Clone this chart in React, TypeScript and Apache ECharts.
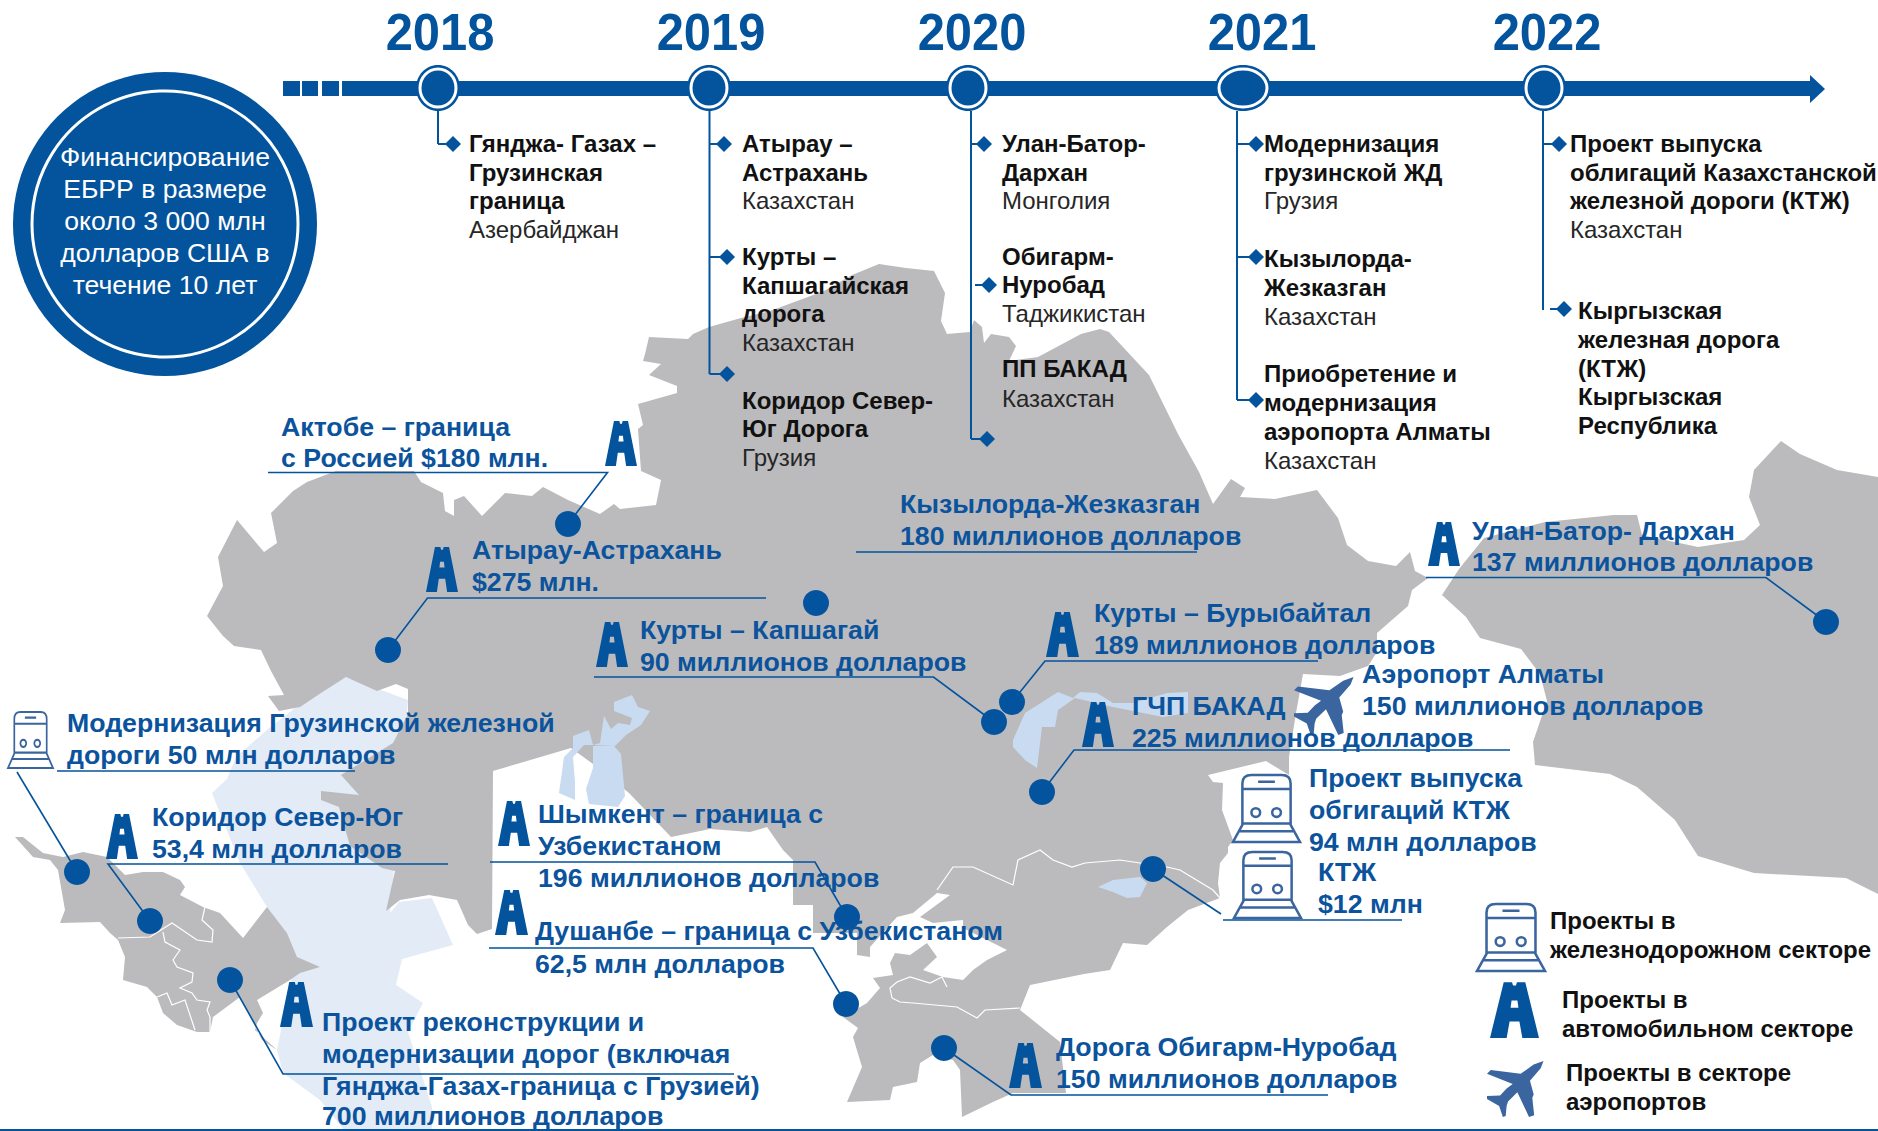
import React, { useEffect, useRef } from "react";
import * as echarts from "echarts";

const W = 1878, H = 1131;
const BLUE = "#03539D", TXT = "#0B539C", GRAY = "#BBBBBD", PALE = "#E3EBF6", LAKE = "#C9DBF0", ICON = "#3A659F";

const years = ["2018", "2019", "2020", "2021", "2022"];
const yearLabelX = [440, 711, 972, 1262, 1547];
const milestoneX = [438, 709, 968, 1243, 1544];
const milestoneRx = [22, 22, 22, 28, 22];

const fundingLines = ["Финансирование", "ЕБРР в размере", "около 3 000 млн", "долларов США в", "течение 10 лет"];

// timeline project notes: [x, y, text, bold]
const notes: [number, number, string, boolean][] = [
  [469, 143, "Гянджа- Газах –", true], [469, 172, "Грузинская", true], [469, 200, "граница", true], [469, 229, "Азербайджан", false],
  [742, 143, "Атырау –", true], [742, 172, "Астрахань", true], [742, 200, "Казахстан", false],
  [742, 256, "Курты –", true], [742, 285, "Капшагайская", true], [742, 313, "дорога", true], [742, 342, "Казахстан", false],
  [742, 400, "Коридор Север-", true], [742, 428, "Юг Дорога", true], [742, 457, "Грузия", false],
  [1002, 143, "Улан-Батор-", true], [1002, 172, "Дархан", true], [1002, 200, "Монголия", false],
  [1002, 256, "Обигарм-", true], [1002, 284, "Нуробад", true], [1002, 313, "Таджикистан", false],
  [1002, 368, "ПП БАКАД", true], [1002, 398, "Казахстан", false],
  [1264, 143, "Модернизация", true], [1264, 172, "грузинской ЖД", true], [1264, 200, "Грузия", false],
  [1264, 258, "Кызылорда-", true], [1264, 287, "Жезказган", true], [1264, 316, "Казахстан", false],
  [1264, 373, "Приобретение и", true], [1264, 402, "модернизация", true], [1264, 431, "аэропорта Алматы", true], [1264, 460, "Казахстан", false],
  [1570, 143, "Проект выпуска", true], [1570, 172, "облигаций Казахстанской", true], [1570, 200, "железной дороги (КТЖ)", true], [1570, 229, "Казахстан", false],
  [1578, 310, "Кыргызская", true], [1578, 339, "железная дорога", true], [1578, 368, "(КТЖ)", true], [1578, 396, "Кыргызская", true], [1578, 425, "Республика", true],
];

// connector per year: [x, top, bottom]
const stems = [[438, 111, 144], [709.5, 111, 374], [971, 111, 439], [1237, 111, 400], [1543, 111, 310]];
// branch: [x1, x2 (diamond centre), y]
const branches = [
  [438, 453, 144], [709.5, 724, 144], [709.5, 727, 257], [709.5, 727, 374],
  [971, 984, 144], [975, 989, 285], [971, 987, 439],
  [1237, 1256, 144], [1237, 1256, 257], [1237, 1256, 400],
  [1543, 1559, 144], [1550, 1564, 309],
];

// blue map labels: x, [lines with y]
const labels: [number, [number, string][]][] = [
  [281, [[427, "Актобе – граница"], [458, "с Россией $180 млн."]]],
  [472, [[550, "Атырау-Астрахань"], [582, "$275 млн."]]],
  [900, [[504, "Кызылорда-Жезказган"], [536, "180 миллионов долларов"]]],
  [640, [[630, "Курты – Капшагай"], [662, "90 миллионов долларов"]]],
  [1094, [[613, "Курты – Бурыбайтал"], [645, "189 миллионов долларов"]]],
  [1132, [[706, "ГЧП БАКАД"], [738, "225 миллионов долларов"]]],
  [1362, [[674, "Аэропорт Алматы"], [706, "150 миллионов долларов"]]],
  [1309, [[778, "Проект выпуска"], [810, "обгигаций КТЖ"], [842, "94 млн долларов"]]],
  [1318, [[872, "КТЖ"], [904, "$12 млн"]]],
  [1472, [[531, "Улан-Батор- Дархан"], [562, "137 миллионов долларов"]]],
  [67, [[723, "Модернизация Грузинской железной"], [755, "дороги 50 млн долларов"]]],
  [152, [[817, "Коридор Север-Юг"], [849, "53,4 млн долларов"]]],
  [538, [[814, "Шымкент – граница с"], [846, "Узбекистаном"], [878, "196 миллионов долларов"]]],
  [535, [[931, "Душанбе – граница с Узбекистаном"], [964, "62,5 млн долларов"]]],
  [322, [[1022, "Проект реконструкции и"], [1054, "модернизации дорог (включая"], [1086, "Гянджа-Газах-граница с Грузией)"], [1116, "700 миллионов долларов"]]],
  [1056, [[1047, "Дорога Обигарм-Нуробад"], [1079, "150 миллионов долларов"]]],
];

// leader lines as polylines
const leaders: number[][][] = [
  [[268, 472.5], [607.5, 472.5], [568, 524]],
  [[766, 598], [427.5, 598], [388, 650]],
  [[856, 552], [1197, 552]],
  [[594, 677], [933.5, 677], [994, 722]],
  [[1318, 661], [1045, 661], [1012, 702]],
  [[1510, 750], [1074, 750], [1042, 792]],
  [[1402, 920], [1223, 920]],
  [[1221, 914], [1153, 869]],
  [[1426, 577.5], [1766, 577.5], [1826, 622]],
  [[355, 771], [57, 771]],
  [[17, 772], [77, 872]],
  [[448, 864], [108, 864], [150, 921]],
  [[490, 862], [815, 862], [847, 917]],
  [[489, 948], [813, 948], [846, 1004]],
  [[734, 1074], [283, 1074], [230, 980]],
  [[1328, 1095], [1011, 1095], [944, 1048]],
];

const dots = [
  [568, 524], [388, 650], [816, 603], [994, 722], [1012, 702], [1042, 792], [1153, 869], [1826, 622],
  [77, 872], [150, 921], [230, 980], [847, 917], [846, 1004], [944, 1048],
];

// road icons [x, y, w, h]
const roads = [
  [605, 420, 32, 46], [426, 546, 32, 46], [596, 621, 32, 46], [1046, 611, 33, 46], [1082, 701, 32, 46], [1428, 521, 32, 45],
  [106, 813, 32, 46], [498, 800, 32, 46], [495, 889, 33, 46], [280, 981, 33, 46], [1009, 1042, 33, 46], [1490, 981, 49, 57],
];
const trains = [[8, 712, 45, 56], [1233, 775, 67, 67], [1234, 852, 67, 66], [1477, 904, 68, 67]];
const planes = [[1294, 676, 60, 59], [1487, 1060, 57, 57]];

const legendLines: [number, number, string][] = [
  [1550, 920, "Проекты в"], [1550, 949, "железнодорожном секторе"],
  [1562, 999, "Проекты в"], [1562, 1028, "автомобильном секторе"],
  [1566, 1072, "Проекты в секторе"], [1566, 1101, "аэропортов"],
];

const land: number[][] = [
  [645,354],[649,337],[688,339],[693,334],[709,327],[741,318],[770,311],[824,291],[852,275],[879,264],[906,268],[934,271],[945,293],[941,321],[947,334],[970,332],[974,320],[982,327],[984,343],[991,334],[1009,337],[1016,346],[1009,361],[1038,357],[1081,334],[1100,329],[1109,332],[1149,375],[1178,434],[1199,472],[1213,504],[1231,479],[1245,488],[1240,497],[1275,499],[1317,490],[1338,518],[1347,545],[1368,561],[1396,566],[1410,552],[1415,571],[1428,578],[1412,590],[1408,606],[1377,633],[1377,652],[1368,666],[1340,676],[1303,674],[1296,713],[1289,757],[1289,775],[1266,761],[1208,775],[1213,782],[1223,783],[1222,810],[1233,840],[1228,847],[1228,853],[1220,863],[1218,883],[1220,898],[1188,910],[1167,927],[1147,945],[1123,943],[1110,970],[1084,974],[1030,985],[1020,1010],[1060,1042],[1066,1093],[1013,1093],[993,1102],[962,1117],[960,1070],[953,1060],[933,1055],[920,1063],[917,1082],[893,1087],[890,1100],[847,1102],[862,1067],[853,1037],[858,1028],[843,1017],[867,1003],[880,988],[873,978],[893,975],[890,963],[895,953],[910,955],[927,943],[937,957],[923,970],[943,977],[963,980],[973,970],[987,960],[1007,950],[963,928],[963,920],[933,923],[920,917],[950,895],[937,893],[913,913],[897,917],[870,947],[870,957],[857,955],[857,933],[813,933],[813,905],[793,905],[793,860],[783,850],[767,827],[750,832],[710,829],[671,837],[629,793],[593,764],[571,748],[493,771],[492,929],[477,934],[468,925],[457,900],[429,895],[400,900],[386,911],[395,871],[382,868],[350,846],[339,807],[321,800],[321,791],[359,795],[341,775],[393,743],[408,714],[408,689],[396,684],[377,691],[346,677],[321,693],[300,707],[279,711],[268,696],[284,695],[271,671],[261,650],[234,646],[223,636],[207,616],[223,586],[218,557],[237,520],[264,552],[277,543],[271,513],[293,491],[307,482],[336,471],[414,471],[421,482],[443,493],[445,511],[454,516],[454,500],[464,496],[482,516],[505,493],[532,496],[543,487],[568,500],[600,514],[614,504],[620,509],[656,505],[661,480],[641,471],[638,429],[643,425],[638,404],[677,393],[677,386],[649,375],[661,364],[643,361],
];
const mongolia: number[][] = [
  [1442,595],[1459,569],[1484,538],[1545,522],[1614,515],[1637,515],[1642,535],[1698,547],[1744,540],[1760,525],[1749,497],[1754,470],[1767,456],[1781,441],[1800,454],[1837,470],[1878,477],[1878,894],[1846,878],[1754,873],[1698,856],[1675,820],[1637,787],[1610,774],[1535,765],[1533,742],[1547,701],[1540,674],[1521,649],[1480,638],[1466,617],
];
const caucasus: number[][] = [
  [15,837],[23,837],[43,853],[63,857],[83,852],[107,857],[125,875],[143,872],[163,872],[180,880],[185,887],[180,895],[203,907],[220,913],[243,938],[267,907],[287,933],[297,957],[320,967],[300,973],[290,980],[257,1000],[263,1013],[257,1023],[255,1030],[277,1050],[262,1040],[240,997],[213,1017],[210,1032],[197,1032],[177,1025],[163,1013],[157,997],[147,987],[123,980],[125,957],[118,940],[110,933],[100,922],[60,923],[65,910],[58,870],[50,860],[33,857],
];
const caspian: number[][] = [
  [346,677],[300,704],[268,729],[236,757],[227,779],[212,793],[240,863],[267,907],[287,933],[297,957],[290,985],[277,1050],[283,1073],[320,1100],[345,1131],[432,1131],[432,1107],[408,1032],[423,1003],[396,985],[402,959],[453,945],[432,898],[399,902],[390,913],[400,800],[408,700],
];
const aralEast: number[][] = [[593,746],[614,746],[621,754],[625,796],[618,807],[589,804],[586,789],[593,768]];
const aralNorth: number[][] = [[593,745],[600,743],[604,716],[611,729],[618,723],[630,725],[632,718],[614,711],[614,702],[632,695],[638,707],[650,711],[641,725],[626,735],[615,746]];
const aralWest: number[][] = [[564,757],[573,748],[573,736],[589,730],[593,745],[584,745],[573,757],[575,782],[575,800],[559,793]];
const balkhash: number[][] = [[1013,740],[1025,713],[1058,692],[1073,698],[1080,692],[1097,693],[1113,703],[1133,703],[1167,693],[1188,692],[1188,713],[1163,717],[1113,707],[1075,698],[1058,710],[1055,727],[1042,727],[1037,768],[1025,760],[1013,747]];
const issykKul: number[][] = [[1098,887],[1113,880],[1140,877],[1147,883],[1140,897],[1127,898],[1113,892]];
const borders: number[][][] = [
  [[937,890],[953,867],[973,867],[1013,885],[1018,860],[1040,850],[1053,860],[1072,867],[1085,863],[1120,860],[1140,863],[1167,867],[1180,870],[1213,890],[1220,898]],
  [[892,998],[890,988],[897,982],[910,977],[930,983],[942,977],[947,987]],
  [[892,998],[900,1002],[913,1003],[957,1007],[977,1018],[985,1010],[1020,1008]],
  [[118,938],[150,937],[172,923],[197,940],[212,942],[213,930],[202,920],[205,907]],
  [[163,932],[165,942],[180,950],[173,960],[177,967],[193,973],[192,982],[180,988],[192,993],[197,1000],[210,1002],[207,1010],[210,1017],[210,1032]],
  [[157,997],[167,993],[172,1005],[185,1000],[195,1030]],
];

echarts.graphic.registerShape("road", echarts.graphic.extendPath(
  "M0 100L28 2L45 2L47 8L53 8L55 2L72 2L100 100L66 100L60 71L40 71L34 100Z M44 34L42 47L58 47L56 34Z", {}) as any);
echarts.graphic.registerShape("train", echarts.graphic.extendPath(
  "M28 145L28 25Q28 0 55 0L145 0Q172 0 172 25L172 145Z M28 42L172 42 M75 20L125 20 M55 112A13 13 0 1 0 81 112A13 13 0 1 0 55 112Z M117 112A13 13 0 1 0 143 112A13 13 0 1 0 117 112Z M30 145L0 200L200 200L170 145 M15 168L185 168", {}) as any);
echarts.graphic.registerShape("plane", echarts.graphic.extendPath(
  "M121 2L115 18L92 45L100 75L97 82L101 120L90 124L65 70L45 90L42 100L40 122L34 124L26 100L0 85L0 78L28 77L42 62L55 52L0 30L8 22L72 30L100 10Z", {}) as any);

export default function App() {
  const ref = useRef<HTMLDivElement>(null);
  useEffect(() => {
    document.body.style.margin = "0";
    const chart = echarts.init(ref.current!, undefined, { renderer: "svg" });
    const g: any[] = [];
    const poly = (points: number[][], fill: string, z = 0) => g.push({ type: "polygon", z, shape: { points }, style: { fill } });
    const pline = (points: number[][], stroke: string, lineWidth: number, z = 1) =>
      g.push({ type: "polyline", z, shape: { points }, style: { stroke, lineWidth, fill: "none" } });
    const text = (x: number, y: number, t: string, fill: string, size: number, weight: string, align = "left", scaleX = 1, z = 10) =>
      g.push({
        type: "text", x, y, z, scaleX,
        style: {
          text: t, fill, fontFamily: "Liberation Sans", fontSize: size, fontWeight: weight,
          align, textAlign: align, verticalAlign: "middle", textVerticalAlign: "middle",
        },
      });

    // map
    poly(caspian, PALE, 0);
    poly(land, GRAY, 0);
    poly(mongolia, GRAY, 0);
    poly(caucasus, GRAY, 0);
    [aralEast, aralNorth, aralWest, balkhash, issykKul].forEach((p) => poly(p, LAKE, 0));
    borders.forEach((b) => pline(b, "#FFFFFF", 1.2, 0));
    g.push({ type: "line", z: 1, shape: { x1: 0, y1: 1130, x2: W, y2: 1130 }, style: { stroke: BLUE, lineWidth: 2 } });

    // funding circle
    g.push({ type: "circle", z: 2, shape: { cx: 165, cy: 224, r: 152 }, style: { fill: BLUE } });
    g.push({ type: "circle", z: 3, shape: { cx: 165, cy: 224, r: 133 }, style: { fill: "none", stroke: "#fff", lineWidth: 3 } });
    fundingLines.forEach((t, i) => text(165, 157 + i * 32, t, "#fff", 26.6, "normal", "center"));

    // timeline
    [[283, 17], [302, 16], [322, 17]].forEach(([x, w]) => g.push({ type: "rect", z: 2, shape: { x, y: 81, width: w, height: 15 }, style: { fill: BLUE } }));
    g.push({ type: "rect", z: 2, shape: { x: 342, y: 81, width: 1470, height: 15 }, style: { fill: BLUE } });
    poly([[1810, 75], [1825, 89], [1810, 103]], BLUE, 2);
    years.forEach((y, i) => {
      const cx = milestoneX[i], rx = milestoneRx[i];
      g.push({ type: "ellipse", z: 3, shape: { cx, cy: 88, rx, ry: 23 }, style: { fill: BLUE } });
      g.push({ type: "ellipse", z: 4, shape: { cx, cy: 88, rx: rx - 4, ry: 19 }, style: { fill: BLUE, stroke: "#fff", lineWidth: 3 } });
      text(yearLabelX[i], 32, y, BLUE, 52, "bold", "center", 0.94);
    });
    stems.forEach(([x, y1, y2]) => g.push({ type: "line", z: 2, shape: { x1: x, y1, x2: x, y2 }, style: { stroke: BLUE, lineWidth: 2 } }));
    branches.forEach(([x1, x2, y]) => {
      g.push({ type: "line", z: 2, shape: { x1, y1: y, x2, y2: y }, style: { stroke: BLUE, lineWidth: 2 } });
      poly([[x2 - 8, y], [x2, y - 8], [x2 + 8, y], [x2, y + 8]], BLUE, 2);
    });
    notes.forEach(([x, y, t, b]) => text(x, y, t, b ? "#111111" : "#262626", 24, b ? "bold" : "normal"));

    // map annotations
    leaders.forEach((l) => pline(l, BLUE, 1.6, 1));
    roads.forEach(([x, y, w, h]) => g.push({ type: "road", z: 5, x, y, scaleX: w / 100, scaleY: h / 100, style: { fill: BLUE } }));
    trains.forEach(([x, y, w, h]) => g.push({ type: "train", z: 5, x, y, scaleX: w / 200, scaleY: h / 200, style: { fill: "none", stroke: ICON, lineWidth: 7.5 } }));
    planes.forEach(([x, y, w, h]) => g.push({ type: "plane", z: 5, x, y, scaleX: w / 122, scaleY: h / 124, style: { fill: ICON } }));
    labels.forEach(([x, lines]) => lines.forEach(([y, t]) => text(x, y, t, TXT, 26.7, "bold")));
    legendLines.forEach(([x, y, t]) => text(x, y, t, "#111111", 24, "bold"));

    chart.setOption({
      animation: false,
      backgroundColor: "#fff",
      grid: { left: 0, right: 0, top: 0, bottom: 0 },
      xAxis: { type: "value", min: 0, max: W, show: false },
      yAxis: { type: "value", min: 0, max: H, inverse: true, show: false },
      series: [{ type: "scatter", data: dots, symbolSize: 26, itemStyle: { color: "#03539F", opacity: 1 }, silent: true, z: 3 }],
      graphic: { elements: g },
    });
    return () => chart.dispose();
  }, []);
  return <div ref={ref} style={{ position: "fixed", left: 0, top: 0, width: W, height: H }} />;
}
